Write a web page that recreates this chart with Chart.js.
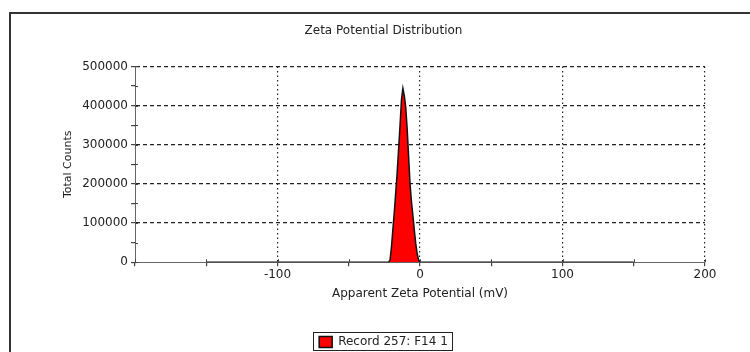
<!DOCTYPE html>
<html>
<head>
<meta charset="utf-8">
<title>Zeta Potential Distribution</title>
<script src="https://cdn.jsdelivr.net/npm/chart.js@4.4.0/dist/chart.umd.min.js"></script>
<style>
  body { margin: 0; background: #fff; }
  canvas { display: block; }
</style>
</head>
<body>
<canvas id="zetaChart" width="750" height="352"></canvas>
<script>
// Measured distribution (mV vs total counts)
const potentials = [-150, -22, -21, -20, -19, -18, -17, -16, -15, -14, -13, -12, -11, -10, -9, -8, -7, -6, -5, -4, -3, -2, -1, 0, 150];
const counts = [0, 0, 6000, 40000, 85000, 130000, 180000, 230000, 290000, 350000, 415000, 444000, 425000, 395000, 340000, 270000, 200000, 155000, 120000, 82000, 48000, 22000, 6000, 0, 0];
const recordLabel = "Record 257: F14 1";

const xMin = -200, xMax = 200;
const yMin = 0, yMax = 500000;

const FONT = "'DejaVu Sans', Arial, sans-serif";
const TEXT = "#222";

window.onload = function() {
  const points = potentials.map((p, i) => ({ x: p, y: counts[i] }));

  // white page plus the report frame around the plot
  const framePlugin = {
    id: 'frame',
    beforeDraw(chart) {
      const ctx = chart.ctx;
      ctx.save();
      ctx.fillStyle = '#fff';
      ctx.fillRect(0, 0, chart.width, chart.height);
      ctx.strokeStyle = '#333';
      ctx.lineWidth = 2;
      ctx.strokeRect(10, 13, chart.width + 20, chart.height + 20);
      ctx.restore();
    }
  };

  // short tick marks on the inner side of both axes
  const innerTicksPlugin = {
    id: 'innerTicks',
    afterDatasetsDraw(chart) {
      const ctx = chart.ctx;
      const { x, y } = chart.scales;
      const area = chart.chartArea;
      ctx.save();
      ctx.strokeStyle = '#444';
      ctx.lineWidth = 1;
      ctx.beginPath();
      y.ticks.forEach(t => {
        const py = Math.round(y.getPixelForValue(t.value)) + 0.5;
        ctx.moveTo(area.left, py);
        ctx.lineTo(area.left + 3, py);
      });
      x.ticks.forEach(t => {
        const px = Math.round(x.getPixelForValue(t.value)) + 0.5;
        ctx.moveTo(px, area.bottom);
        ctx.lineTo(px, area.bottom - 3);
      });
      ctx.stroke();
      ctx.restore();
    }
  };

  // box drawn around the legend entry
  const legendBoxPlugin = {
    id: 'legendBox',
    afterDraw(chart) {
      const boxes = chart.legend && chart.legend.legendHitBoxes;
      if (!boxes || !boxes.length) return;
      const b = boxes[0];
      const ctx = chart.ctx;
      ctx.save();
      ctx.strokeStyle = '#222';
      ctx.lineWidth = 1;
      ctx.strokeRect(Math.round(b.left) - 5.5, Math.round(b.top) - 3.5, Math.round(b.width) + 10, Math.round(b.height) + 6);
      ctx.restore();
    }
  };

  new Chart(document.getElementById('zetaChart').getContext('2d'), {
    type: 'line',
    data: {
      datasets: [{
        label: recordLabel,
        data: points,
        borderColor: '#111',
        borderWidth: 1.5,
        backgroundColor: 'rgb(255, 0, 0)',
        fill: 'origin',
        tension: 0,
        pointRadius: 0
      }]
    },
    options: {
      responsive: false,
      animation: false,
      layout: { padding: { left: 62, right: 45, top: 10, bottom: -6 } },
      scales: {
        x: {
          type: 'linear',
          min: xMin,
          max: xMax,
          ticks: {
            stepSize: 50,
            autoSkip: false,
            maxRotation: 0,
            color: TEXT,
            font: { family: FONT, size: 12 },
            padding: 1,
            callback: v => (v % 100 === 0 && v !== xMin) ? String(v) : ''
          },
          grid: {
            color: c => (c.tick && c.tick.value % 100 === 0 && c.tick.value !== xMin) ? '#222' : 'rgba(0,0,0,0)',
            lineWidth: 1.2,
            tickColor: '#444',
            tickLength: 4
          },
          border: { display: true, color: '#666', width: 1, dash: [1.5, 3] },
          title: {
            display: true,
            text: 'Apparent Zeta Potential (mV)',
            color: TEXT,
            font: { family: FONT, size: 12 },
            padding: { top: 4, bottom: 30 }
          }
        },
        y: {
          min: yMin,
          max: yMax,
          ticks: {
            stepSize: 50000,
            autoSkip: false,
            color: TEXT,
            font: { family: FONT, size: 12 },
            padding: 3,
            callback: v => (v % 100000 === 0) ? String(v) : ''
          },
          grid: {
            color: c => (c.tick && c.tick.value % 100000 === 0 && c.tick.value !== 0) ? '#222' : 'rgba(0,0,0,0)',
            lineWidth: 1.2,
            tickColor: '#444',
            tickLength: 4
          },
          border: { display: true, color: '#666', width: 1, dash: [4, 3] },
          title: {
            display: true,
            text: 'Total Counts',
            color: TEXT,
            font: { family: FONT, size: 11 },
            padding: { top: 0, bottom: 4 }
          }
        }
      },
      plugins: {
        title: {
          display: true,
          text: 'Zeta Potential Distribution',
          color: TEXT,
          font: { family: FONT, size: 12, weight: 'normal' },
          padding: { top: 14, bottom: 28 }
        },
        legend: {
          display: true,
          position: 'bottom',
          labels: {
            color: TEXT,
            font: { family: FONT, size: 12 },
            boxWidth: 13,
            boxHeight: 11,
            padding: 5
          }
        },
        tooltip: { enabled: false }
      }
    },
    plugins: [framePlugin, innerTicksPlugin, legendBoxPlugin]
  });
};
</script>
</body>
</html>
